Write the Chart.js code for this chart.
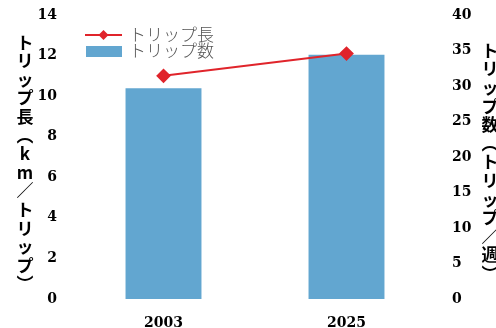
<!DOCTYPE html>
<html><head><meta charset="utf-8">
<script src="https://cdn.jsdelivr.net/npm/chart.js@4.4.1/dist/chart.umd.min.js"></script>
<style>html,body{margin:0;padding:0;background:#fff}#wrap{width:496px;height:328px}</style>
</head><body><div id="wrap"><canvas id="c"></canvas></div>
<script>
const categories = ['2003', '2025'];
const tripLength = [11.0, 12.1];   // km / trip (left axis)
const tripCount = [29.7, 34.4];    // trips / week (right axis)
const leftTicks = [0, 2, 4, 6, 8, 10, 12, 14];
const rightTicks = [0, 5, 10, 15, 20, 25, 30, 35, 40];
const leftTitle = ['ト','リ','ッ','プ','長','︵','k','m','／','ト','リ','ッ','プ','︶'];
const rightTitle = ['ト','リ','ッ','プ','数','︵','ト','リ','ッ','プ','／','週','︶'];
const legendLabels = ['トリップ長', 'トリップ数'];

const RED = '#e0242b', BLUE = '#62a6d0';
const tickFont = {family: 'DejaVu Serif', size: 14, weight: 'bold'};

const verticalTitles = {
  id: 'verticalTitles',
  afterDraw(chart) {
    const ctx = chart.ctx;
    ctx.save();
    ctx.fillStyle = '#000';
    ctx.font = 'bold 17px "Noto Sans CJK JP"';
    ctx.textAlign = 'center';
    ctx.textBaseline = 'middle';
    const step = 18.6;
    const draw = (chars, x, cy) => {
      const y0 = cy - (chars.length - 1) * step / 2;
      chars.forEach((ch, i) => ctx.fillText(ch, x, y0 + i * step));
    };
    draw(leftTitle, 25, 163);
    draw(rightTitle, 490, 162);
    // legend
    const l = 85, r = 122;
    ctx.strokeStyle = RED; ctx.lineWidth = 2;
    ctx.beginPath(); ctx.moveTo(l, 35); ctx.lineTo(r, 35); ctx.stroke();
    ctx.fillStyle = RED;
    ctx.beginPath(); ctx.moveTo(103.5, 30); ctx.lineTo(108.5, 35); ctx.lineTo(103.5, 40); ctx.lineTo(98.5, 35); ctx.closePath(); ctx.fill();
    ctx.fillStyle = BLUE;
    ctx.fillRect(86, 46, 36, 11);
    ctx.fillStyle = '#555';
    ctx.font = '300 17px "Noto Sans CJK JP"';
    ctx.textAlign = 'left';
    ctx.fillText(legendLabels[0], 129, 35);
    ctx.fillText(legendLabels[1], 129, 51);
    ctx.restore();
  }
};

function fitY(width) {
  return function (s) { s.width = width; s.paddingTop = 15; s.paddingBottom = 0; };
}

new Chart(document.getElementById('c'), {
  data: {
    labels: categories,
    datasets: [
      {type: 'line', label: legendLabels[0], data: tripLength, yAxisID: 'yL', borderColor: RED, backgroundColor: RED,
       borderWidth: 2, pointStyle: 'rectRot', pointRadius: 6, pointHoverRadius: 6, order: 0},
      {type: 'bar', label: legendLabels[1], data: tripCount, yAxisID: 'yR', backgroundColor: BLUE,
       barPercentage: 0.83, categoryPercentage: 0.5, order: 1}
    ]
  },
  options: {
    responsive: true, maintainAspectRatio: false, animation: false,
    layout: {padding: 0, autoPadding: false},
    plugins: {legend: {display: false}, tooltip: {enabled: false}},
    scales: {
      x: {grid: {display: false, drawTicks: false}, border: {display: false},
          ticks: {color: '#000', font: tickFont, padding: 16},
          afterFit(s) { s.height = 29; }},
      yL: {position: 'left', min: 0, max: 14, grid: {display: false, drawTicks: false}, border: {display: false},
           ticks: {color: '#000', font: tickFont, stepSize: 2, padding: 15,
                   callback: (v) => leftTicks.includes(v) ? String(v) : null},
           afterFit: fitY(72)},
      yR: {position: 'right', min: 0, max: 40, grid: {display: false, drawTicks: false}, border: {display: false},
           ticks: {color: '#000', font: tickFont, stepSize: 5, padding: 14,
                   callback: (v) => rightTicks.includes(v) ? String(v) : null},
           afterFit: fitY(58)}
    }
  },
  plugins: [verticalTitles]
});
</script></body></html>
